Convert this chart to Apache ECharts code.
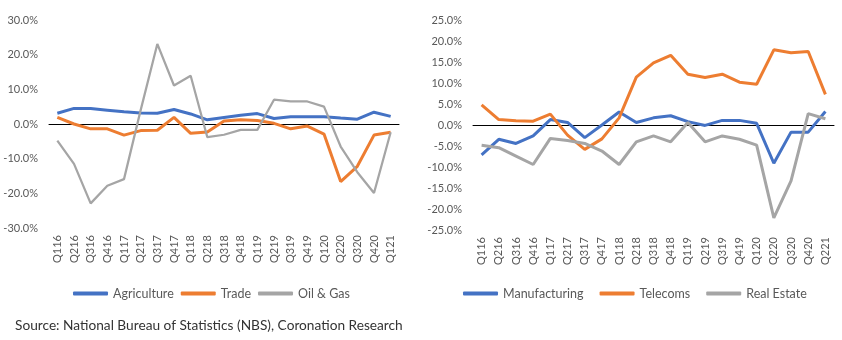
<!DOCTYPE html>
<html>
<head>
<meta charset="utf-8">
<script src="https://cdn.jsdelivr.net/npm/echarts@6/dist/echarts.min.js"></script>
<style>html,body{margin:0;padding:0;background:#fff;}#c{width:842px;height:340px;}</style>
</head>
<body>
<div id="c"></div>
<script>
var catsLeft = ['Q116','Q216','Q316','Q416','Q117','Q217','Q317','Q417','Q118','Q218','Q318','Q418','Q119','Q219','Q319','Q419','Q120','Q220','Q320','Q420','Q121'];
var catsRight = ['Q116','Q216','Q316','Q416','Q117','Q217','Q317','Q417','Q118','Q218','Q318','Q418','Q119','Q219','Q319','Q419','Q120','Q220','Q320','Q420','Q221'];
var agriculture = [3.1,4.5,4.5,4.0,3.5,3.2,3.1,4.2,2.9,1.2,1.9,2.5,3.0,1.6,2.1,2.1,2.1,1.7,1.4,3.4,2.2];
var trade = [1.9,0.0,-1.4,-1.4,-3.2,-1.9,-1.8,1.9,-2.7,-2.3,0.9,1.2,1.0,0.2,-1.4,-0.6,-2.9,-16.6,-12.2,-3.2,-2.4];
var oilGas = [-4.8,-11.5,-22.9,-17.8,-15.9,4.0,23.1,11.1,13.9,-3.8,-3.1,-1.7,-1.7,7.0,6.5,6.5,5.0,-6.5,-13.9,-19.9,-2.4];
var manufacturing = [-7.1,-3.4,-4.4,-2.6,1.3,0.6,-3.0,0.0,3.1,0.6,1.7,2.2,0.8,-0.1,1.1,1.1,0.4,-9.1,-1.7,-1.7,3.2];
var telecoms = [4.8,1.3,1.0,0.9,2.6,-2.4,-5.8,-3.3,1.7,11.4,14.8,16.6,12.1,11.3,12.1,10.2,9.7,17.9,17.2,17.5,7.3];
var realEstate = [-4.8,-5.4,-7.4,-9.4,-3.2,-3.7,-4.4,-6.2,-9.4,-4.0,-2.6,-4.0,0.6,-4.0,-2.6,-3.4,-4.8,-22.1,-13.3,2.7,1.5];

var BLUE='#4472C4', ORANGE='#ED7D31', GRAY='#A5A5A5', TXT='#595959';
var FONT='Lato';
function pct(v){return v.toFixed(1)+'%';}
function labelAxis(gi, cats){
  return {type:'category', gridIndex:gi, data:cats, position:'bottom', boundaryGap:true,
    axisLine:{show:false, onZero:false}, axisTick:{show:false},
    axisLabel:{rotate:90, interval:0, margin:7, fontSize:11, color:TXT, fontFamily:FONT}};
}
function zeroAxis(gi, cats){
  return {type:'category', gridIndex:gi, data:cats, position:'bottom', boundaryGap:true,
    axisLine:{show:true, onZero:true, lineStyle:{color:'#000', width:1}}, axisTick:{show:false},
    axisLabel:{show:false}};
}
function yAx(gi,min,max,iv){
  return {type:'value', gridIndex:gi, min:min, max:max, interval:iv,
    axisLine:{show:false}, axisTick:{show:false}, splitLine:{show:false},
    axisLabel:{formatter:pct, fontSize:11, color:TXT, fontFamily:FONT, margin:11}};
}
function ln(name, data, color, xi, yi, w){
  return {name:name, type:'line', data:data, xAxisIndex:xi, yAxisIndex:yi, symbol:'none',
    lineStyle:{color:color, width:w}, itemStyle:{color:color}, z:3};
}
var chart = echarts.init(document.getElementById('c'));
chart.setOption({
  animation:false,
  textStyle:{fontFamily:FONT},
  grid:[
    {left:49, top:20, width:350, height:208},
    {left:473, top:20, width:361, height:210}
  ],
  xAxis:[labelAxis(0,catsLeft), zeroAxis(0,catsLeft), labelAxis(1,catsRight), zeroAxis(1,catsRight)],
  yAxis:[yAx(0,-30,30,10), yAx(1,-25,25,5)],
  legend:[
    {left:73, top:287, itemWidth:35, itemHeight:4, itemGap:7, icon:'roundRect', padding:0,
     textStyle:{fontSize:12.5, color:TXT, fontFamily:FONT},
     data:['Agriculture','Trade','Oil & Gas']},
    {left:463, top:287, itemWidth:35, itemHeight:4, itemGap:16, icon:'roundRect', padding:0,
     textStyle:{fontSize:12.5, color:TXT, fontFamily:FONT},
     data:['Manufacturing','Telecoms','Real Estate']}
  ],
  graphic:[{type:'text', left:15, top:319, style:{text:'Source: National Bureau of Statistics (NBS), Coronation Research', fontSize:13.7, fill:'#333', fontFamily:FONT}}],
  series:[
    ln('Agriculture', agriculture, BLUE, 0, 0, 3),
    ln('Trade', trade, ORANGE, 0, 0, 3),
    ln('Oil & Gas', oilGas, GRAY, 0, 0, 2.25),
    ln('Manufacturing', manufacturing, BLUE, 2, 1, 3),
    ln('Telecoms', telecoms, ORANGE, 2, 1, 3),
    ln('Real Estate', realEstate, GRAY, 2, 1, 3)
  ]
});
</script>
</body>
</html>
